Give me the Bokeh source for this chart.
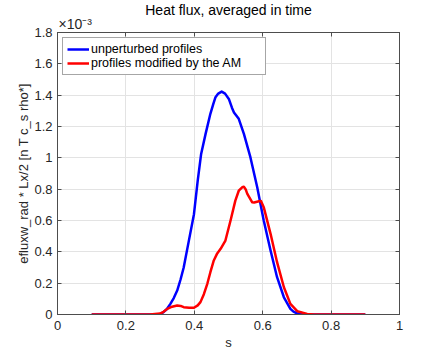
from bokeh.plotting import figure
from bokeh.models import Legend, LegendItem, LinearAxis, FixedTicker, Range1d, Title
from bokeh.embed import file_html
from bokeh.resources import INLINE

# flux values in units of 1e-3
s_unpert = [0.10, 0.20, 0.28, 0.301, 0.31, 0.32, 0.33, 0.34, 0.35, 0.36, 0.369, 0.384, 0.399,
            0.41, 0.42, 0.433, 0.447, 0.455, 0.462, 0.47, 0.48, 0.49, 0.501, 0.51, 0.516, 0.53,
            0.545, 0.564, 0.584, 0.603, 0.623, 0.642, 0.662, 0.681, 0.69, 0.70, 0.711, 0.73,
            0.80, 0.90]
flux_unpert = [0.0, 0.0, 0.0, 0.004, 0.015, 0.035, 0.068, 0.105, 0.153, 0.225, 0.30, 0.47, 0.64,
               0.855, 1.025, 1.153, 1.281, 1.34, 1.387, 1.41, 1.423, 1.41, 1.376, 1.32, 1.29, 1.249,
               1.153, 1.004, 0.812, 0.60, 0.408, 0.238, 0.11, 0.036, 0.018, 0.008, 0.004, 0.0,
               0.0, 0.0]

s_mod = [0.10, 0.20, 0.27, 0.30, 0.31, 0.321, 0.335, 0.35, 0.36, 0.369, 0.385, 0.399, 0.41,
         0.418, 0.428, 0.438, 0.447, 0.457, 0.467, 0.477, 0.491, 0.506, 0.52, 0.53, 0.54, 0.545,
         0.55, 0.555, 0.569, 0.575, 0.589, 0.595, 0.603, 0.623, 0.642, 0.662, 0.681, 0.701,
         0.73, 0.75, 0.80, 0.90]
flux_mod = [0.0, 0.0, 0.0, 0.006, 0.017, 0.036, 0.05, 0.057, 0.055, 0.047, 0.043, 0.043, 0.058,
            0.079, 0.13, 0.196, 0.27, 0.345, 0.39, 0.419, 0.472, 0.60, 0.727, 0.79, 0.812, 0.815,
            0.80, 0.77, 0.717, 0.715, 0.723, 0.725, 0.685, 0.515, 0.334, 0.174, 0.068, 0.021,
            0.004, 0.0, 0.0, 0.0]

x_ticks = [0, 0.2, 0.4, 0.6, 0.8, 1.0]
x_tick_labels = ["0", "0.2", "0.4", "0.6", "0.8", "1"]
y_ticks = [0, 0.2, 0.4, 0.6, 0.8, 1.0, 1.2, 1.4, 1.6, 1.8]
y_tick_labels = ["0", "0.2", "0.4", "0.6", "0.8", "1", "1.2", "1.4", "1.6", "1.8"]
exponent_text = "×10⁻³"
title_text = "Heat flux, averaged in time"

FONT = "Liberation Sans"
TXT = "#262626"
AX = "#4d4d4d"

p = figure(width=442, height=354, output_backend="svg", toolbar_location=None,
           x_range=Range1d(0, 1), y_range=Range1d(0, 1.8),
           min_border_left=57, min_border_right=43, min_border_top=32, min_border_bottom=40)
p.outline_line_color = AX
p.background_fill_color = "white"
p.border_fill_color = "white"

for ax, ticks, labels, name in [(p.xaxis[0], x_ticks, x_tick_labels, "s"),
                                (p.yaxis[0], y_ticks, y_tick_labels,
                                 "efluxw_rad * Lx/2 [n T c_s rho*]")]:
    ax.ticker = FixedTicker(ticks=ticks)
    ax.major_label_overrides = {t: l for t, l in zip(ticks, labels)}
    ax.axis_label = name
    ax.axis_label_text_font = FONT
    ax.axis_label_text_font_size = "13px"
    ax.axis_label_text_font_style = "normal"
    ax.axis_label_text_color = TXT
    ax.major_label_text_font = FONT
    ax.major_label_text_font_size = "13px"
    ax.major_label_text_color = TXT
    ax.axis_line_color = AX
    ax.major_tick_line_color = AX
    ax.major_tick_in = 4
    ax.major_tick_out = 0
    ax.minor_tick_line_color = None
p.xaxis.axis_label_standoff = 2
p.yaxis.axis_label_standoff = 0
p.xaxis.major_label_standoff = 6
p.yaxis.major_label_standoff = 5

right_axis = LinearAxis(ticker=FixedTicker(ticks=y_ticks), major_label_text_font_size="0px",
                        major_label_text_color=None,
                        major_tick_in=4, major_tick_out=0, minor_tick_line_color=None,
                        axis_line_color=AX, major_tick_line_color=AX, major_label_standoff=0)
p.add_layout(right_axis, "right")

top_axis = LinearAxis(ticker=FixedTicker(ticks=x_ticks), major_label_text_font_size="0px",
                      major_label_text_color=None,
                      major_tick_in=4, major_tick_out=0, minor_tick_line_color=None,
                      axis_line_color=AX, major_tick_line_color=AX, major_label_standoff=0)
p.add_layout(top_axis, "above")

# exponent label just above the frame, left aligned; main title stacked above it
p.add_layout(Title(text=exponent_text, align="left", offset=1, standoff=1,
                   text_font=FONT, text_font_size="14px", text_font_style="normal",
                   text_color=TXT), "above")
p.add_layout(Title(text=title_text, align="center", standoff=-9,
                   text_font=FONT, text_font_size="14px", text_font_style="normal",
                   text_color="#000000"), "above")

p.grid.grid_line_color = "#e3e3e3"
p.xgrid.ticker = FixedTicker(ticks=x_ticks)
p.ygrid.ticker = FixedTicker(ticks=y_ticks)

r1 = p.line(s_unpert, flux_unpert, line_color="#0000ff", line_width=2.5, line_join="round")
r2 = p.line(s_mod, flux_mod, line_color="#ff0000", line_width=2.5, line_join="round")

legend = Legend(items=[LegendItem(label="unperturbed profiles", renderers=[r1]),
                       LegendItem(label="profiles modified by the AM", renderers=[r2])],
                location="top_left", margin=5, padding=4, spacing=0,
                glyph_width=22, glyph_height=14, label_height=14, label_standoff=2,
                label_width=170,
                label_text_font=FONT, label_text_font_size="12.5px", label_text_color="#000000",
                border_line_color=AX, border_line_width=1, background_fill_alpha=1)
p.add_layout(legend, "center")

open("out.html", "w").write(file_html(p, INLINE))
